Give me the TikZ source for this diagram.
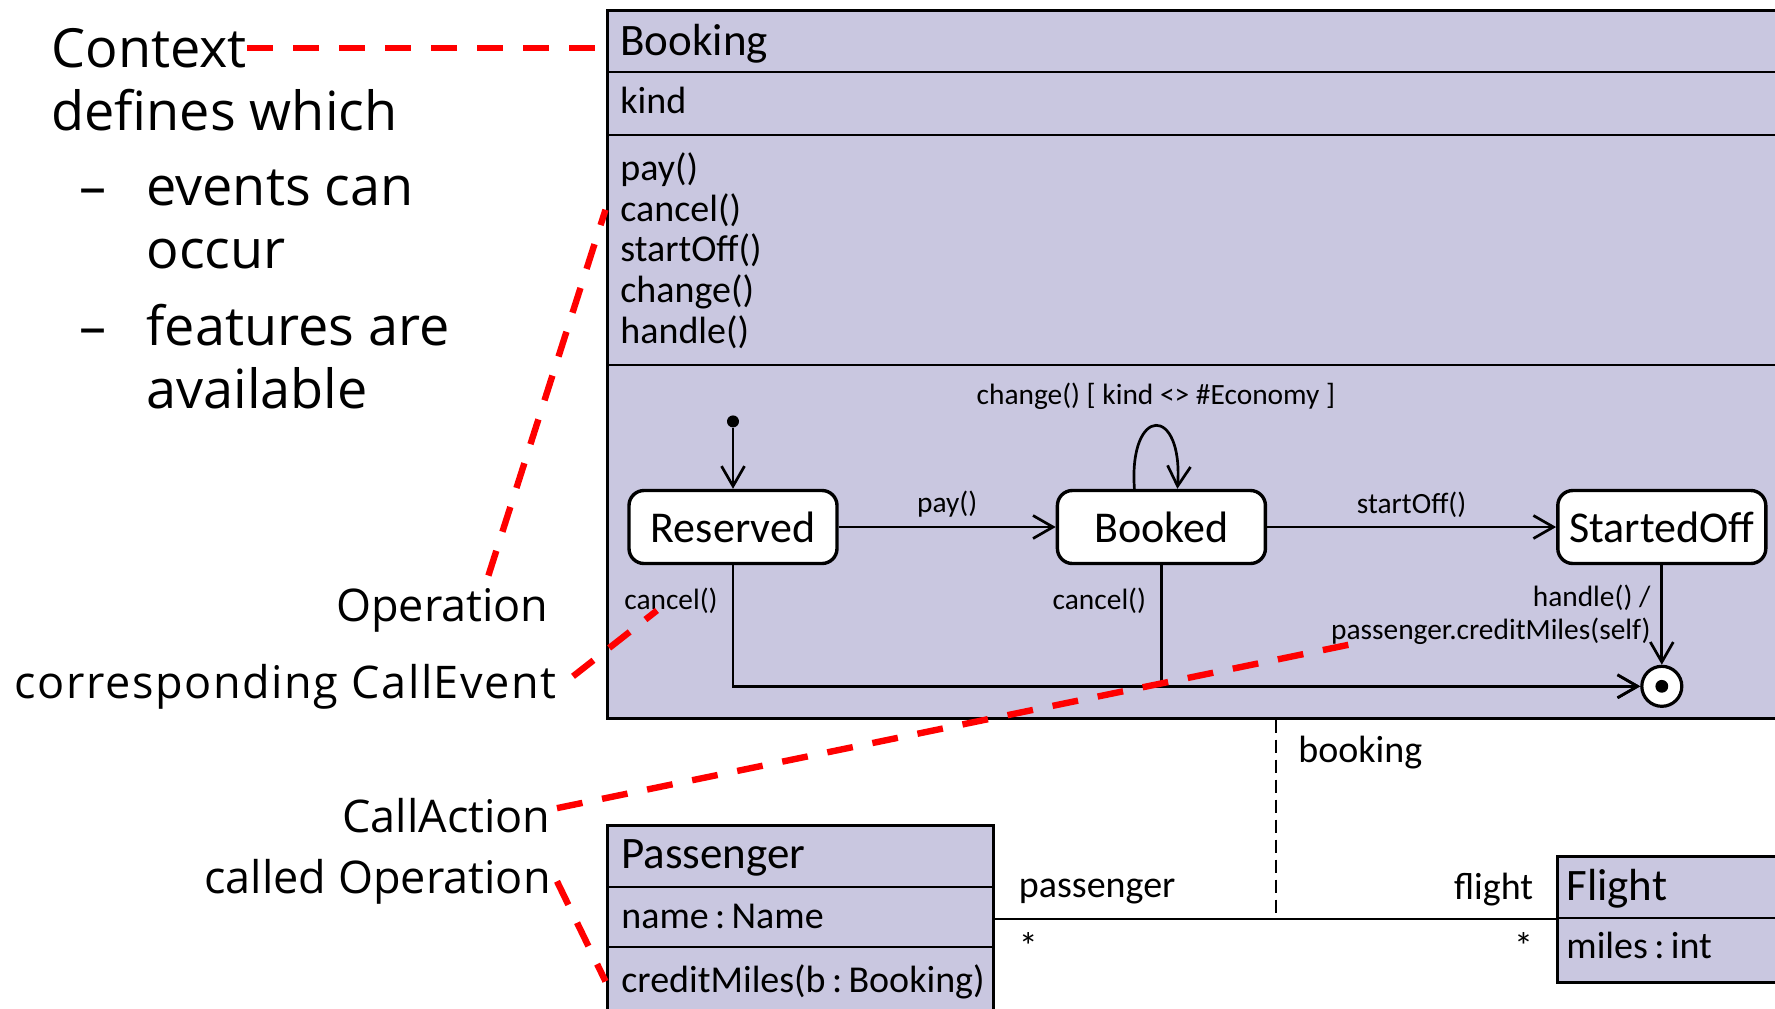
\documentclass[tikz,border=0pt]{standalone}
\usepackage{fontspec}
\setmainfont{Carlito}
\newfontfamily\notefont{Open Sans}
\usepackage{tikz}
\usetikzlibrary{arrows.meta,positioning,calc}
\definecolor{umlfill}{HTML}{C9C7E0}
\definecolor{calloutred}{HTML}{FF0000}

\begin{document}
\begin{tikzpicture}[
 x=0.5pt,y=-0.5pt,
 classbox/.style={draw,line width=1.5pt,fill=umlfill,inner sep=0},
 classline/.style={line width=1.4pt},
 clsname/.style={anchor=base west,inner sep=0,font=\fontsize{22.5}{27}\selectfont},
 clsitem/.style={anchor=base west,inner sep=0,font=\fontsize{19}{23}\selectfont},
 stbox/.style={draw,fill=white,line width=1.7pt,rounded corners=7.5pt,minimum width=104pt,minimum height=36.5pt,inner sep=0,font=\fontsize{22}{26}\selectfont},
 initdot/.style={circle,fill,inner sep=0,minimum size=6pt},
 finalst/.style={circle,draw,fill=white,line width=1.6pt,inner sep=0,minimum size=20pt,path picture={\fill[black] (path picture bounding box.center) circle (3.2pt);}},
 trans/.style={-{Straight Barb[length=10pt,width=11.5pt]},line width=1.35pt},
 lbl/.style={inner sep=2pt,font=\fontsize{14.7}{16.5}\selectfont},
 assoc/.style={line width=1.4pt},
 assoclbl/.style={inner sep=0,font=\fontsize{19}{23}\selectfont},
 bkdash/.style={line width=1.3pt,dash pattern=on 6.5pt off 3.5pt},
 note/.style={anchor=base west,inner sep=0,font=\notefont\fontsize{27}{32}\selectfont},
 callnote/.style={anchor=base east,inner sep=0,font=\notefont\fontsize{22.5}{27}\selectfont},
 callout/.style={draw=calloutred,line width=3.2pt,dash pattern=on 13pt off 10pt}
]
\path[use as bounding box,fill=white] (0,0) rectangle (1775,1008);

\node[classbox,minimum width=591.5pt,minimum height=354pt] (bookingcls) at (1198.5,364) {};
\draw[classline] (607,72) -- (1790,72);
\draw[classline] (607,135) -- (1790,135);
\draw[classline] (607,365) -- (1790,365);
\node[clsname] (bkname) at (620,55) {Booking};
\node[clsitem] (bkkind) at (620,113) {kind};
\foreach \op [count=\i] in {pay(),cancel(),startOff(),change(),handle()}
  \node[clsitem] (op\i) at (620,{139.5+40.75*\i}) {\op};

\node[classbox,minimum width=193pt,minimum height=102.5pt] (passengercls) at (800,927.5) {};
\draw[classline] (607,887) -- (993,887);
\draw[classline] (607,947) -- (993,947);
\node[clsname] (psname) at (621,868) {Passenger};
\node[clsitem] (psattr) at (621,928) {name\,:\,Name};
\node[clsitem] (cm) at (621,992) {creditMiles(b\,:\,Booking)};

\node[classbox,minimum width=116.5pt,minimum height=63pt] (flightcls) at (1673.5,919) {};
\draw[classline] (1557,918) -- (1790,918);
\node[clsname] (flname) at (1566,900) {Flight};
\node[clsitem] (flattr) at (1566,958) {miles\,:\,int};

\draw[assoc] (flightcls.west -| passengercls.east) -- coordinate[pos=0.502] (amid)
  node[assoclbl,pos=0,above right=7pt and 11.5pt] {passenger}
  node[assoclbl,pos=0,below right=6pt and 11.5pt] {*}
  node[assoclbl,pos=1,above left=6pt and 10.5pt] {flight}
  node[assoclbl,pos=1,below left=6pt and 10.5pt] {*} (flightcls.west);
\draw[bkdash] (amid |- bookingcls.south) -- node[assoclbl,pos=0,below right=7.5pt and 10.5pt] {booking} (amid);

\node[stbox] (reserved) at (733,527) {Reserved};
\node[stbox,right=108.5pt of reserved] (booked) {Booked};
\node[stbox,right=144.5pt of booked] (startedoff) {StartedOff};
\node[initdot,above=30.5pt of reserved] (init) {};
\node[finalst,below=49.75pt of startedoff] (final) {};

\draw[trans] (init) -- (reserved);
\draw[trans] (reserved) -- node[lbl,above=2pt] {pay()} (booked);
\draw[trans] (booked) -- node[lbl,above=2pt] {startOff()} (startedoff);
\draw[trans] ([xshift=-13.5pt]booked.north) .. controls +(-3pt,42pt) and +(3pt,42pt) .. node[lbl,above=5.5pt] {change() [ kind <> \#Economy ]} ([xshift=8pt]booked.north);
\draw[trans] (reserved) |- node[lbl,left=5pt,pos=0.145] (lcanR) {cancel()} (final);
\draw[trans] (booked) |- node[lbl,left=5pt,pos=0.145] (lcanB) {cancel()} (final);
\draw[trans] (startedoff) -- node[lbl,left=3pt,align=right] (lhandle) {handle() /\\passenger.creditMiles(self)} (final);

\node[note] (ctx) at (51,67) {Context};
\node[note] (defw) at (51,130) {defines which};
\node[note] (dash1) at (79,205) {–};
\node[note] (ev1) at (146,205) {events can};
\node[note] (ev2) at (146,268) {occur};
\node[note] (dash2) at (79,345) {–};
\node[note] (ft1) at (146,345) {features are};
\node[note] (ft2) at (146,408) {available};

\node[callnote] (oper) at (549,621) {Operation};
\node[callnote] (callev) at (557,698) {\addfontfeature{LetterSpace=3.5}corresponding CallEvent};
\node[callnote] (callact) at (551,832) {CallAction};
\node[callnote] (calledop) at (551,893) {called Operation};

\draw[callout] (ctx.east) -- (ctx.east -| bookingcls.west);
\draw[callout] ([xshift=23pt,yshift=6pt]oper.north) -- (op2.west -| bookingcls.west);
\draw[callout] ([xshift=8pt,yshift=5pt]callev.east) -- ([xshift=-7pt,yshift=4pt]lcanR.south);
\draw[callout] ([xshift=3pt,yshift=3.5pt]callact.east) -- ([xshift=15.5pt,yshift=3.5pt]lhandle.south west);
\draw[callout] ([xshift=3pt]calledop.east) -- (cm.west -| passengercls.west);
\end{tikzpicture}
\end{document}
